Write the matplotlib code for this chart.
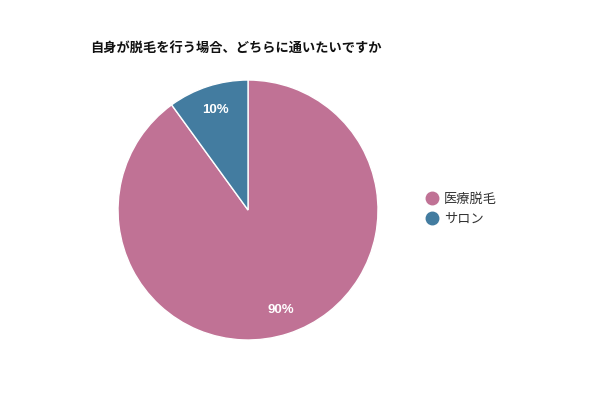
import matplotlib.pyplot as plt
from matplotlib.lines import Line2D

plt.rcParams['font.family'] = ['Noto Sans CJK JP', 'DejaVu Sans']

# survey answers
labels = ['医療脱毛', 'サロン']
values = [90, 10]
colors = ['#c07295', '#437ca0']
title = '自身が脱毛を行う場合、どちらに通いたいですか'

fig = plt.figure(figsize=(6, 4), dpi=100)
ax = fig.add_axes([0.1967, 0.15, 0.4333, 0.65])

wedges, texts, autotexts = ax.pie(
    values, colors=colors, startangle=90, counterclock=False,
    autopct='%d%%', pctdistance=0.81,
    wedgeprops=dict(edgecolor='white', linewidth=1),
    textprops=dict(color='white', fontsize=9.5, fontweight='bold',
                   family=['Liberation Sans']))
ax.set_xlim(-1, 1)
ax.set_ylim(-1, 1)
ax.set_aspect('equal')

fig.text(90 / 600, 1 - 48 / 400, title, fontsize=9.5, fontweight='bold',
         ha='left', va='center', color='#111111')

handles = [Line2D([0], [0], marker='o', linestyle='none', markersize=9,
                  markerfacecolor=c, markeredgecolor=c) for c in colors]
fig.legend(handles, labels, loc='center left', bbox_to_anchor=(412 / 600, 1 - 209 / 400),
           frameon=False, fontsize=9.5, handletextpad=0.3, labelspacing=0.5,
           handlelength=1.2, labelcolor='#333333')

fig.savefig('out.png', dpi=100)
